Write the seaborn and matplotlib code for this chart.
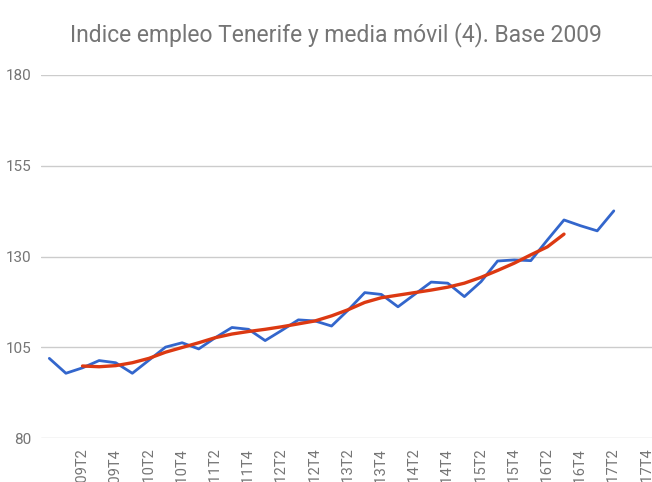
import matplotlib
matplotlib.use("Agg")
import matplotlib.pyplot as plt
import seaborn as sns
import pandas as pd

# trimestres (solo se rotulan los T2 y T4)
trimestres = ["2008T4",
              "2009T1", "2009T2", "2009T3", "2009T4",
              "2010T1", "2010T2", "2010T3", "2010T4",
              "2011T1", "2011T2", "2011T3", "2011T4",
              "2012T1", "2012T2", "2012T3", "2012T4",
              "2013T1", "2013T2", "2013T3", "2013T4",
              "2014T1", "2014T2", "2014T3", "2014T4",
              "2015T1", "2015T2", "2015T3", "2015T4",
              "2016T1", "2016T2", "2016T3", "2016T4",
              "2017T1", "2017T2", "2017T3", "2017T4"]

# indice de empleo, desde 2008T4 hasta 2017T2
indice_empleo = [102.0, 97.9, 99.4, 101.4, 100.8, 97.9, 101.5, 105.1, 106.3, 104.6,
                 107.7, 110.5, 110.0, 106.9, 109.7, 112.6, 112.3, 110.9, 115.3, 120.1,
                 119.6, 116.2, 119.6, 123.0, 122.7, 119.0, 123.1, 128.8, 129.1, 128.9,
                 134.6, 140.1, 138.5, 137.1, 142.6]

# media movil (4), desde 2009T2 hasta 2016T3
media_movil = [99.9, 99.7, 100.0, 100.8, 102.0, 103.7, 105.0, 106.3, 107.7, 108.7,
               109.4, 110.0, 110.7, 111.5, 112.3, 113.7, 115.4, 117.4, 118.7, 119.4,
               120.1, 120.8, 121.6, 122.7, 124.3, 126.2, 128.2, 130.5, 132.7, 136.2]
inicio_mm = 2

y_ticks = [80, 105, 130, 155, 180]

sns.set_style("white")
plt.rcParams['font.family'] = ['Roboto', 'DejaVu Sans']

gris = "#757575"

df_idx = pd.DataFrame({"k": range(len(indice_empleo)), "valor": indice_empleo})
df_mm = pd.DataFrame({"k": range(inicio_mm, inicio_mm + len(media_movil)), "valor": media_movil})

fig = plt.figure(figsize=(6.52, 4.82), dpi=100)
ax = fig.add_axes([41 / 652, 1 - 438.3 / 482, 1 - 41 / 652, (438.3 - 75) / 482])

sns.lineplot(data=df_idx, x="k", y="valor", color="#3366cc", linewidth=2.0, ax=ax, clip_on=False)
sns.lineplot(data=df_mm, x="k", y="valor", color="#dc3912", linewidth=2.4, ax=ax, clip_on=False)

ax.set_ylim(80, 180)
ax.set_xlim(-0.5, 36.3)
ax.set_yticks(y_ticks)
ax.set_yticklabels([str(v) for v in y_ticks], color=gris, fontsize=11)
ax.set_xticks(range(2, len(trimestres), 2))
ax.set_xticklabels(trimestres[2::2], rotation=90, color=gris, fontsize=10.5, va="top", ha="center")
ax.tick_params(axis="y", length=0, pad=7)
ax.tick_params(axis="x", length=0, pad=7.5)
ax.grid(axis="y", color="#cccccc", linewidth=1)
ax.set_axisbelow(True)
for s in ax.spines.values():
    s.set_visible(False)
ax.set_xlabel("")
ax.set_ylabel("")

fig.text(335.5 / 652, 1 - 41.7 / 482, "Indice empleo Tenerife y media móvil (4). Base 2009",
         ha="center", va="baseline", color=gris, fontsize=16.5)

fig.savefig("out.png", dpi=100)
